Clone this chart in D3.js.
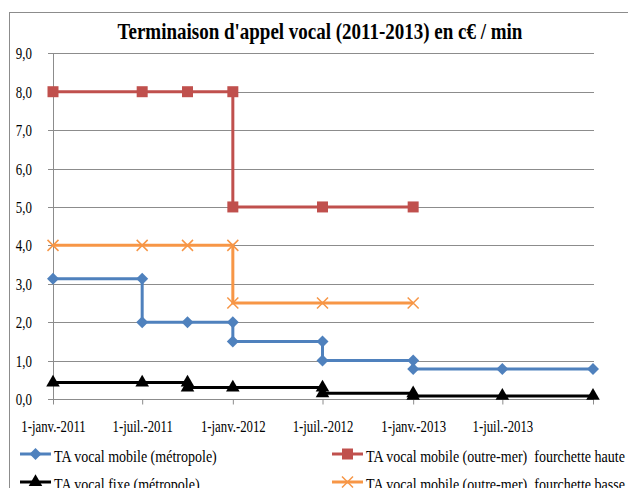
<!DOCTYPE html>
<html>
<head>
<meta charset="utf-8">
<script src="https://cdn.jsdelivr.net/npm/d3@7"></script>
<style>
  body { margin: 0; background: #fff; }
</style>
</head>
<body>
<div id="chart"></div>
<script>
// Series values (c€ / min), step points in drawing order
var mobileMetro = [
    ["2011-01-01", 3.13], ["2011-07-01", 3.13], ["2011-07-01", 2.0], ["2011-10-01", 2.0],
    ["2012-01-01", 2.0], ["2012-01-01", 1.5], ["2012-07-01", 1.5], ["2012-07-01", 1.0],
    ["2013-01-01", 1.0], ["2013-01-01", 0.78], ["2013-07-01", 0.78], ["2014-01-01", 0.78]
];
var mobileDomHaute = [
    ["2011-01-01", 8], ["2011-07-01", 8], ["2011-10-01", 8], ["2012-01-01", 8],
    ["2012-01-01", 5], ["2012-07-01", 5], ["2013-01-01", 5]
];
var fixeMetro = [
    ["2011-01-01", 0.43], ["2011-07-01", 0.43], ["2011-10-01", 0.43], ["2011-10-01", 0.3],
    ["2012-01-01", 0.3], ["2012-07-01", 0.3], ["2012-07-01", 0.15], ["2013-01-01", 0.15],
    ["2013-01-01", 0.08], ["2013-07-01", 0.08], ["2014-01-01", 0.08]
];
var mobileDomBasse = [
    ["2011-01-01", 4], ["2011-07-01", 4], ["2011-10-01", 4], ["2012-01-01", 4],
    ["2012-01-01", 2.5], ["2012-07-01", 2.5], ["2013-01-01", 2.5]
];
var seriesNames = [
    "TA vocal mobile (métropole)",
    "TA vocal mobile (outre-mer)  fourchette haute",
    "TA vocal fixe (métropole)",
    "TA vocal mobile (outre-mer)  fourchette basse"
];
var yTicks = [0, 1, 2, 3, 4, 5, 6, 7, 8, 9];
var monthNames = ["janv.", "févr.", "mars", "avr.", "mai", "juin", "juil.", "août", "sept.", "oct.", "nov.", "déc."];

var W = 628, H = 488;
var FONT = "'Liberation Serif', 'DejaVu Serif', 'Times New Roman', serif";
var parse = d3.timeParse("%Y-%m-%d");

var svg = d3.select("#chart").append("svg")
    .attr("width", W)
    .attr("height", H);

// narrow text like the original: place with translate and squeeze horizontally
function squeeze(sel, k) {
    sel.each(function() {
        var t = d3.select(this);
        var tx = +t.attr("x") || 0, ty = +t.attr("y") || 0;
        t.attr("x", 0).attr("y", 0)
            .attr("transform", "translate(" + tx + "," + ty + ") scale(" + k + ",1)");
    });
}

// chart border (runs off right and bottom)
svg.append("rect")
    .attr("x", 9.5).attr("y", 12.5)
    .attr("width", 700).attr("height", 600)
    .attr("fill", "none")
    .attr("stroke", "#8c8c8c");

var x = d3.scaleTime()
    .domain([parse("2011-01-01"), parse("2014-01-01")])
    .range([53, 593]);

var y = d3.scaleLinear()
    .domain([0, 9])
    .range([399, 53.3]);

// gridlines
svg.append("g").selectAll("line")
    .data(yTicks)
    .enter().append("line")
    .attr("x1", 48).attr("x2", 594)
    .attr("y1", function(d) { return Math.round(y(d)) + 0.5; })
    .attr("y2", function(d) { return Math.round(y(d)) + 0.5; })
    .attr("stroke", "#8c8c8c");

// y axis line
svg.append("line")
    .attr("x1", 53.5).attr("x2", 53.5)
    .attr("y1", y(9)).attr("y2", y(0))
    .attr("stroke", "#8c8c8c");

// y labels
svg.append("g").selectAll("text")
    .data(yTicks)
    .enter().append("text")
    .attr("x", 32)
    .attr("y", function(d) { return y(d) + 6; })
    .attr("text-anchor", "end")
    .attr("font-family", FONT)
    .attr("font-size", 17)
    .attr("fill", "#000")
    .text(function(d) { return d3.format(".1f")(d).replace(".", ","); })
    .call(squeeze, 0.76);

// x axis ticks and labels
var xAxis = d3.axisBottom(x)
    .ticks(d3.timeMonth.every(6))
    .tickSize(5)
    .tickFormat(function(d) {
        if (d >= parse("2014-01-01")) return "";
        return "1-" + monthNames[d.getMonth()] + "-" + d.getFullYear();
    });

var gx = svg.append("g")
    .attr("transform", "translate(0,399.5)")
    .call(xAxis);
gx.attr("font-family", FONT).attr("font-size", 16);
gx.select(".domain").remove();
gx.selectAll(".tick line").attr("stroke", "#8c8c8c");
gx.selectAll(".tick text")
    .attr("dy", 0)
    .attr("y", 32)
    .attr("fill", "#000")
    .call(squeeze, 0.8);

// series
var series = [
    { name: seriesNames[0], data: mobileMetro, color: "#4f81bd", marker: "diamond" },
    { name: seriesNames[1], data: mobileDomHaute, color: "#c0504d", marker: "square" },
    { name: seriesNames[2], data: fixeMetro, color: "#000000", marker: "triangle" },
    { name: seriesNames[3], data: mobileDomBasse, color: "#f79646", marker: "x" }
];

var line = d3.line()
    .x(function(d) { return x(parse(d[0])); })
    .y(function(d) { return y(d[1]); });

function drawMarker(g, type, color) {
    if (type === "diamond") {
        g.append("path")
            .attr("d", d3.symbol().type(d3.symbolSquare).size(72)())
            .attr("transform", "rotate(45)")
            .attr("fill", color);
    } else if (type === "square") {
        g.append("path")
            .attr("d", d3.symbol().type(d3.symbolSquare).size(121)())
            .attr("fill", color);
    } else if (type === "triangle") {
        g.append("path")
            .attr("d", d3.symbol().type(d3.symbolTriangle).size(80)())
            .attr("fill", color);
    } else {
        g.append("path")
            .attr("d", "M-5.5,-5.5L5.5,5.5M-5.5,5.5L5.5,-5.5")
            .attr("stroke", color)
            .attr("stroke-width", 1.5)
            .attr("fill", "none");
    }
}

series.forEach(function(s) {
    var g = svg.append("g");
    g.append("path")
        .datum(s.data)
        .attr("d", line)
        .attr("fill", "none")
        .attr("stroke", s.color)
        .attr("stroke-width", 3);
    g.selectAll(".pt")
        .data(s.data)
        .enter().append("g")
        .attr("transform", function(d) { return "translate(" + x(parse(d[0])) + "," + y(d[1]) + ")"; })
        .each(function() { drawMarker(d3.select(this), s.marker, s.color); });
});

// legend
var legendPos = [[20, 454], [332, 454], [20, 482], [332, 482]];
series.forEach(function(s, i) {
    var lg = svg.append("g")
        .attr("transform", "translate(" + legendPos[i][0] + "," + legendPos[i][1] + ")");
    lg.append("line")
        .attr("x1", 0).attr("x2", 31)
        .attr("stroke", s.color)
        .attr("stroke-width", 3);
    var m = lg.append("g").attr("transform", "translate(15.5,0)");
    drawMarker(m, s.marker, s.color);
    lg.append("text")
        .attr("x", 34)
        .attr("y", 8)
        .attr("font-family", FONT)
        .attr("font-size", 17)
        .attr("fill", "#000")
        .style("white-space", "pre")
        .text(s.name)
        .call(squeeze, 0.825);
});

// title
svg.append("text")
    .attr("x", 320)
    .attr("y", 39)
    .attr("text-anchor", "middle")
    .attr("font-family", FONT)
    .attr("font-size", 23)
    .attr("font-weight", "bold")
    .attr("fill", "#000")
    .text("Terminaison d'appel vocal (2011-2013) en c€ / min")
    .call(squeeze, 0.826);
</script>
</body>
</html>
